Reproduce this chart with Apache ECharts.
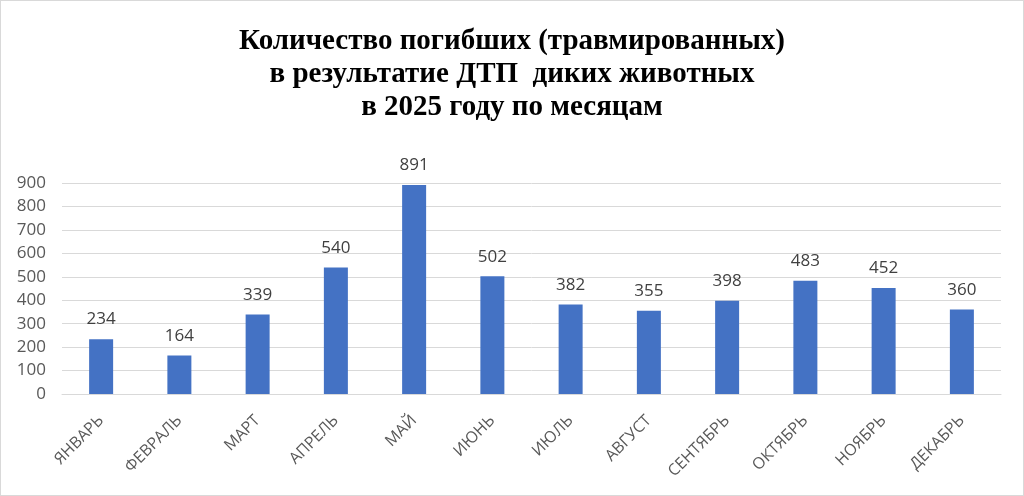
<!DOCTYPE html>
<html>
<head>
<meta charset="utf-8">
<script src="https://cdn.jsdelivr.net/npm/echarts@6/dist/echarts.min.js"></script>
<style>
  html, body { margin: 0; padding: 0; background: #fff; }
  #chart { width: 1024px; height: 496px; box-sizing: border-box; border: 1px solid #d9d9d9; }
</style>
</head>
<body>
<div id="chart"></div>
<script>
// данные по месяцам
const months = ['ЯНВАРЬ', 'ФЕВРАЛЬ', 'МАРТ', 'АПРЕЛЬ', 'МАЙ', 'ИЮНЬ', 'ИЮЛЬ', 'АВГУСТ', 'СЕНТЯБРЬ', 'ОКТЯБРЬ', 'НОЯБРЬ', 'ДЕКАБРЬ']
const counts = [234, 164, 339, 540, 891, 502, 382, 355, 398, 483, 452, 360]
const titleLines = ['Количество погибших (травмированных)', 'в результатие ДТП  диких животных', 'в 2025 году по месяцам']

const chart = echarts.init(document.getElementById('chart'))
chart.setOption({
  animation: false,
  title: {
    text: titleLines.join('\n'),
    left: 'center',
    top: 19,
    textStyle: {
      fontFamily: 'Liberation Serif',
      fontWeight: 'bold',
      fontSize: 29,
      lineHeight: 33,
      color: '#000'
    }
  },
  grid: {
    left: 61,
    right: 22,
    top: 182,
    bottom: 101
  },
  xAxis: {
    type: 'category',
    data: months,
    axisTick: { show: false },
    axisLine: { lineStyle: { color: '#d9d9d9' } },
    axisLabel: {
      rotate: 45,
      margin: 24,
      color: '#595959',
      fontFamily: 'Open Sans',
      fontSize: 16
    }
  },
  yAxis: {
    type: 'value',
    min: 0,
    max: 900,
    interval: 100,
    axisLabel: {
      color: '#595959',
      fontFamily: 'Open Sans',
      fontSize: 17,
      margin: 16
    },
    splitLine: { lineStyle: { color: '#d9d9d9' } }
  },
  series: [{
    type: 'bar',
    data: counts,
    barWidth: 24,
    itemStyle: { color: '#4472c4' },
    label: {
      show: true,
      position: 'top',
      distance: 11,
      color: '#404040',
      fontFamily: 'Open Sans',
      fontSize: 17
    }
  }]
})
</script>
</body>
</html>
